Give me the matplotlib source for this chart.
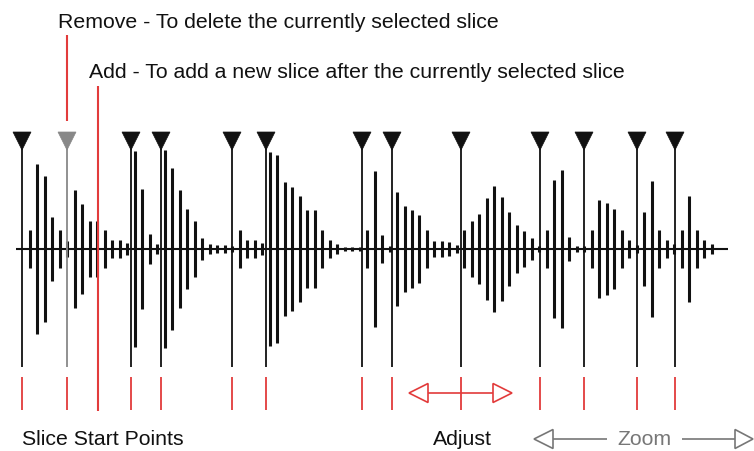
import matplotlib
matplotlib.use("Agg")
import matplotlib.pyplot as plt
import numpy as np
from matplotlib.patches import Polygon

# ---- data (pixel space of the 754x452 diagram) ----
# half-height of each waveform bar, one per sample
AMPS = [19, 85, 73, 32, 19, 8, 59, 45, 28, 28, 19, 9, 9, 6, 98, 60, 15, 5,
        99, 81, 59, 40, 28, 11, 5, 4, 4, 3, 19, 9, 9, 6, 97, 94, 67, 62, 53,
        39, 39, 19, 9, 5, 2, 2, 2, 19, 78, 14, 3, 57, 43, 39, 34, 19, 8, 8,
        7, 4, 19, 28, 35, 51, 63, 52, 37, 24, 18, 11, 3, 19, 69, 79, 12, 3,
        3, 19, 49, 46, 40, 19, 9, 4, 37, 68, 19, 9, 5, 19, 53, 19, 9, 5]
SAMPLE0, STEP = 30.0, 7.49          # x of first bar, spacing between bars
SLICE_X = [22, 67, 131, 161, 232, 266, 362, 392, 461, 540, 584, 637, 675]
SELECTED = 1                         # index of the grey (selected) slice
ADD_X = 98                           # where "Add" inserts a new slice

RED = "#e23b3b"
GREY = "#888888"
ZGREY = "#777777"
INK = "#111111"
FS = 15.35

plt.rcParams["font.family"] = ["Liberation Sans", "DejaVu Sans"]

fig = plt.figure(figsize=(7.54, 4.52), dpi=100)
ax = fig.add_axes([0, 0, 1, 1])
ax.set_xlim(0, 754)
ax.set_ylim(452, 0)
ax.axis("off")

# waveform
xs = SAMPLE0 + STEP * np.arange(len(AMPS))
amps = np.array(AMPS)
base = 250
ax.vlines(xs, base - amps, base + amps, color=INK, lw=2.2, capstyle="butt")
ax.hlines(base, 16, 728, color=INK, lw=1.5)

# slice markers
for i, x in enumerate(SLICE_X):
    c = GREY if i == SELECTED else INK
    ax.vlines(x, 145, 368, color=c, lw=1.3)
    ax.add_patch(Polygon([[x - 9, 133], [x + 9, 133], [x, 151]],
                         closed=True, fc=c, ec=c, lw=0.5))
    ax.vlines(x, 378, 411, color=RED, lw=1.3)

# remove / add callouts
ax.vlines(SLICE_X[SELECTED], 36, 122, color=RED, lw=1.5)
ax.vlines(ADD_X, 87, 412, color=RED, lw=1.5)
ax.text(58, 22, "Remove - To delete the currently selected slice",
        fontsize=FS, color=INK, va="center", ha="left")
ax.text(89, 73, "Add - To add a new slice after the currently selected slice",
        fontsize=FS, color=INK, va="center", ha="left")


def hollow_arrow(x_tip, x_base, y, color):
    ax.add_patch(Polygon([[x_tip, y], [x_base, y - 9.5], [x_base, y + 9.5]],
                         closed=True, fc="white", ec=color, lw=1.2))


# adjust arrows
ay = 394
ax.hlines(ay, 428, 493, color=RED, lw=1.2)
hollow_arrow(409, 428, ay, RED)
hollow_arrow(512, 493, ay, RED)

# bottom labels
ty = 440
ax.text(22, ty, "Slice Start Points", fontsize=FS, color=INK, va="center")
ax.text(433, ty, "Adjust", fontsize=FS, color=INK, va="center")
ax.text(644, ty, "Zoom", fontsize=FS, color=ZGREY, va="center", ha="center")
ax.hlines(ty, 553, 607, color=ZGREY, lw=1.2)
ax.hlines(ty, 682, 735, color=ZGREY, lw=1.2)
hollow_arrow(534, 553, ty, ZGREY)
hollow_arrow(753, 735, ty, ZGREY)

fig.savefig("out.png", dpi=100)
plt.close(fig)
